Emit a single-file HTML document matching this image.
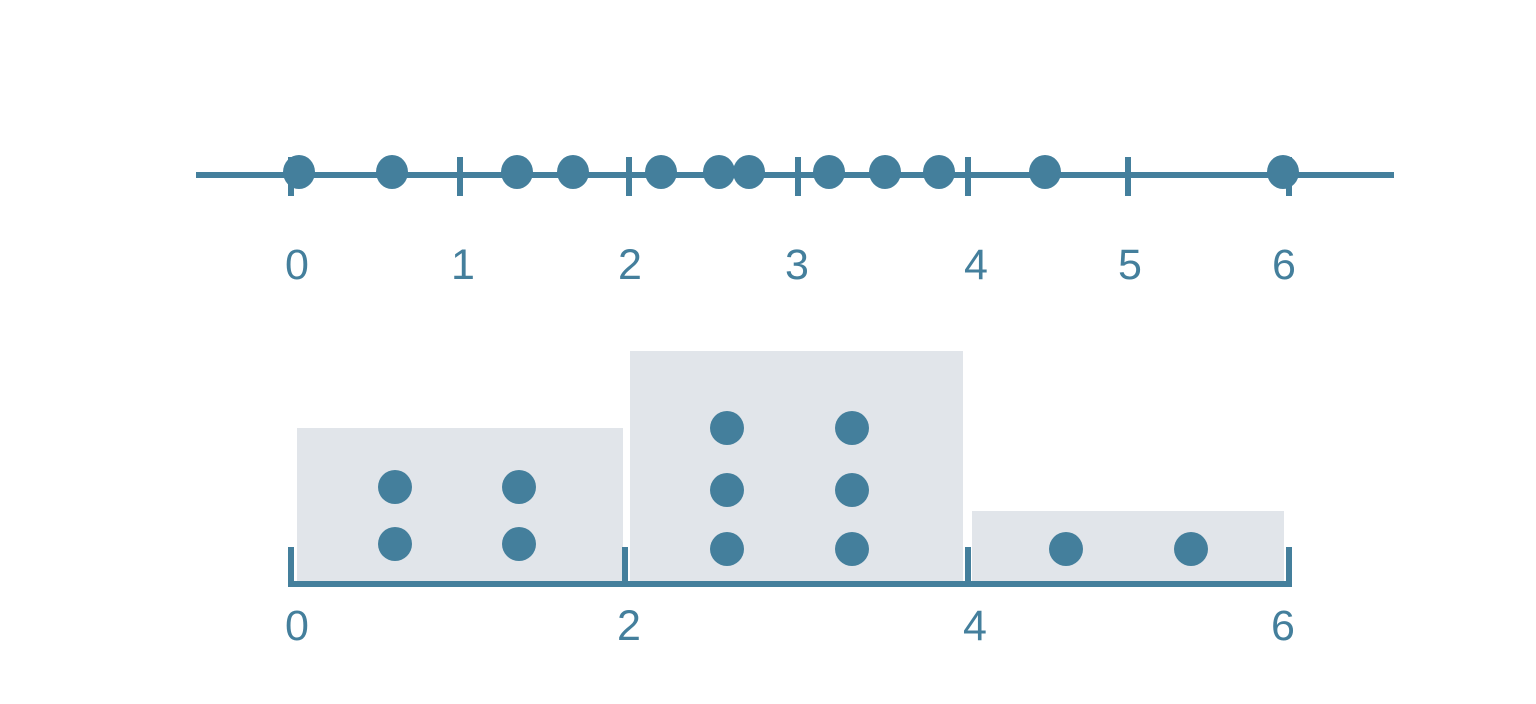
<!DOCTYPE html>
<html><head><style>body{margin:0;background:#fff}svg{display:block}</style></head><body>
<svg width="1536" height="704" xmlns="http://www.w3.org/2000/svg">
<g fill="#e1e5ea">
<rect x="297" y="428" width="326" height="155"/>
<rect x="630" y="351" width="333" height="232"/>
<rect x="972" y="511" width="312" height="72"/>
</g>
<g stroke="#447f9c" stroke-width="6">
<line x1="196" y1="175" x2="1394" y2="175"/>
<line x1="291" y1="157" x2="291" y2="196"/>
<line x1="460" y1="157" x2="460" y2="196"/>
<line x1="629" y1="157" x2="629" y2="196"/>
<line x1="798" y1="157" x2="798" y2="196"/>
<line x1="968" y1="157" x2="968" y2="196"/>
<line x1="1128" y1="157" x2="1128" y2="196"/>
<line x1="1289" y1="157" x2="1289" y2="196"/>
<line x1="288" y1="584" x2="1292" y2="584"/>
<line x1="291" y1="547" x2="291" y2="587"/>
<line x1="625" y1="547" x2="625" y2="587"/>
<line x1="968" y1="547" x2="968" y2="587"/>
<line x1="1289" y1="547" x2="1289" y2="587"/>
</g>
<g fill="#447f9c">
<ellipse cx="299" cy="172" rx="16" ry="17"/>
<ellipse cx="392" cy="172" rx="16" ry="17"/>
<ellipse cx="517" cy="172" rx="16" ry="17"/>
<ellipse cx="573" cy="172" rx="16" ry="17"/>
<ellipse cx="661" cy="172" rx="16" ry="17"/>
<ellipse cx="719" cy="172" rx="16" ry="17"/>
<ellipse cx="749" cy="172" rx="16" ry="17"/>
<ellipse cx="829" cy="172" rx="16" ry="17"/>
<ellipse cx="885" cy="172" rx="16" ry="17"/>
<ellipse cx="939" cy="172" rx="16" ry="17"/>
<ellipse cx="1045" cy="172" rx="16" ry="17"/>
<ellipse cx="1283" cy="172" rx="16" ry="17"/>
<circle cx="395" cy="487" r="17"/><circle cx="519" cy="487" r="17"/>
<circle cx="395" cy="544" r="17"/><circle cx="519" cy="544" r="17"/>
<circle cx="727" cy="428" r="17"/><circle cx="852" cy="428" r="17"/>
<circle cx="727" cy="490" r="17"/><circle cx="852" cy="490" r="17"/>
<circle cx="727" cy="549" r="17"/><circle cx="852" cy="549" r="17"/>
<circle cx="1066" cy="549" r="17"/><circle cx="1191" cy="549" r="17"/>
</g>
<g fill="#447f9c" font-family="Liberation Sans, sans-serif" font-size="43" text-anchor="middle">
<text x="297" y="279">0</text>
<text x="463" y="279">1</text>
<text x="630" y="279">2</text>
<text x="797" y="279">3</text>
<text x="976" y="279">4</text>
<text x="1130" y="279">5</text>
<text x="1284" y="279">6</text>
<text x="297" y="640">0</text>
<text x="629" y="640">2</text>
<text x="975" y="640">4</text>
<text x="1283" y="640">6</text>
</g>
</svg>
</body></html>
